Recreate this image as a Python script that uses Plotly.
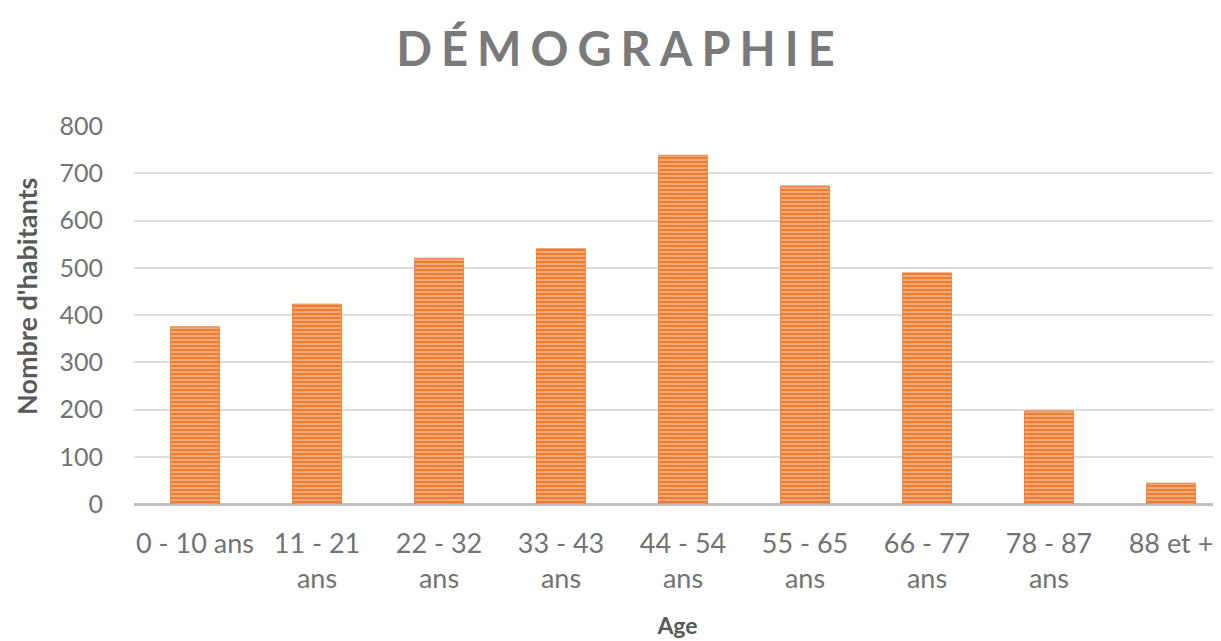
import plotly.graph_objects as go

categories = ["0 - 10 ans", "11 - 21<br>ans", "22 - 32<br>ans", "33 - 43<br>ans",
              "44 - 54<br>ans", "55 - 65<br>ans", "66 - 77<br>ans", "78 - 87<br>ans", "88 et +"]
habitants = [375, 423, 520, 540, 738, 673, 489, 197, 44]
y_ticks = [0, 100, 200, 300, 400, 500, 600, 700, 800]

W, H = 1213, 633  # page body has an 8px margin

fig = go.Figure()
fig.add_trace(go.Bar(
    x=list(range(len(categories))),
    y=habitants,
    width=0.4,
    marker=dict(
        color="#F9C9A6",
        line=dict(color="#EE8040", width=1),
        pattern=dict(shape="-", bgcolor="#ED7D31", fgcolor="#F9C9A6",
                     size=4, solidity=0.3, fillmode="replace"),
    ),
    hoverinfo="x+y",
))

fig.update_layout(
    width=W, height=H,
    margin=dict(l=126, r=0, t=118, b=137, autoexpand=False),
    paper_bgcolor="white", plot_bgcolor="white",
    font=dict(family="Lato", color="#737373"),
    showlegend=False,
    title=dict(
        text="<span style='letter-spacing:9px'>DÉMOGRAPHIE</span>",
        xref="container", x=(612) / W, y=1 - 42 / H, yref="container",
        xanchor="center", yanchor="middle",
        font=dict(family="Lato", size=47, color="#7A7A7A", weight="bold"),
    ),
    annotations=[dict(
        text="<b>Nombre d'habitants</b>", textangle=-90,
        xref="paper", x=-(126 - 18) / (W - 126), xanchor="center",
        yref="paper", y=(496 - 289) / 378, yanchor="middle",
        showarrow=False, font=dict(family="Lato", size=27, color="#595959"),
    )],
)

fig.update_xaxes(
    tickmode="array", tickvals=list(range(len(categories))), ticktext=categories,
    range=[-0.5, 8.41], automargin=False,
    showgrid=False, showline=False, zeroline=False, ticks="",
    tickfont=dict(family="Lato", size=27, color="#737373"),
    ticklabelstandoff=21,
    title=dict(text="<b>Age</b>", font=dict(family="Lato", size=23, color="#595959"), standoff=24),
)
fig.update_yaxes(
    range=[0, 800], tickmode="array", tickvals=y_ticks, automargin=False,
    showgrid=True, gridcolor="#DCDCDC", gridwidth=1.5,
    zeroline=True, zerolinecolor="#BFBFBF", zerolinewidth=2.5,
    showline=False, ticks="",
    tickfont=dict(family="Lato", size=25, color="#737373"),
    ticklabelstandoff=30,
)

fig.write_html("out.html")
